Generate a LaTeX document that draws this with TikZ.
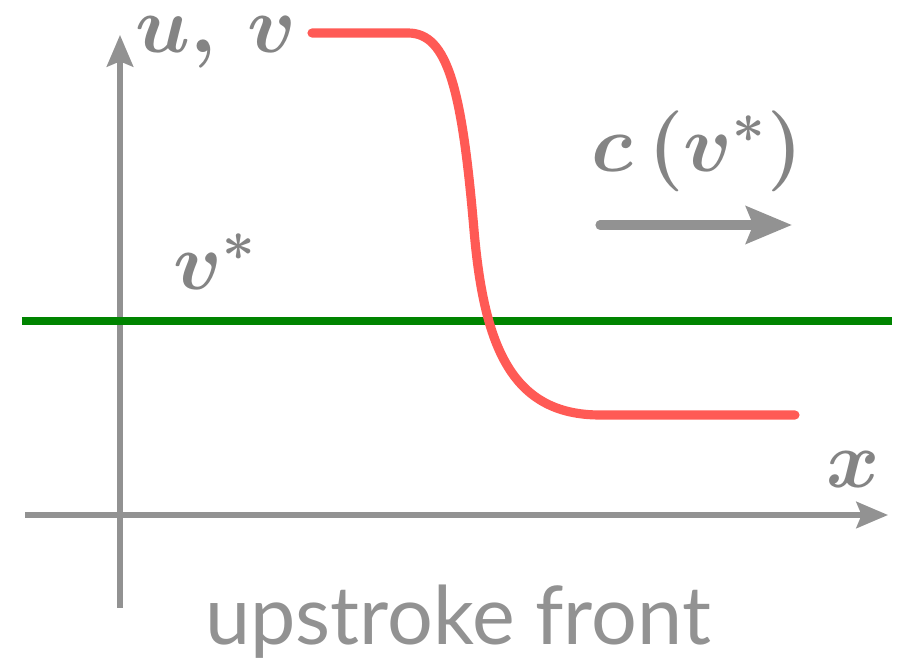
\RequirePackage{fix-cm}
\documentclass[tikz,border=0pt]{standalone}
\usepackage{amsmath,amssymb}
\usepackage{fontspec}
\newfontfamily\capfont{Lato}
\usetikzlibrary{arrows.meta,calc}
\definecolor{axG}{RGB}{146,146,146}
\definecolor{txG}{RGB}{132,132,132}
\definecolor{frR}{RGB}{255,90,85}
\definecolor{lvG}{RGB}{0,132,0}

\begin{document}
\begin{tikzpicture}[x=0.01cm,y=-0.01cm,
  axis/.style={draw=axG,line width=1.45pt,-{Stealth[length=9pt,width=7.5pt,inset=1.5pt]}},
  mlab/.style={text=txG,font=\fontsize{23}{28}\selectfont\boldmath,inner sep=0pt,anchor=base}]
\useasboundingbox (0,0) rectangle (899,670);
% axes
\coordinate (xl) at (25,515);
\coordinate (xr) at (888,515);
\coordinate (yb) at (120,608);
\coordinate (yt) at (120,35);
\draw[axis] (xl) -- (xr);
\draw[axis] (yb) -- (yt);
% threshold level v*
\coordinate (gl) at (22,321);
\coordinate (gr) at (892,321);
\draw[lvG,line width=2.3pt] (gl) -- (gr);
% front profile
\draw[frR,line width=2.6pt,line cap=round] (312,33) -- (408,33)
  .. controls (448,33) and (462,90) .. (474,230)
  .. controls (484,347) and (512,415) .. (600,415) -- (795,415);
% propagation direction
\coordinate (sa) at (600,225);
\coordinate (sb) at (792,225);
\draw[axG,line width=2.6pt,line cap=round,-{Stealth[length=13pt,width=10.5pt,inset=2pt]}] (sa) -- (sb);
\node[mlab] (uv) at (216,53) {$u,\,v$};
\node[mlab] (speed) at (697,172) {$c\,(v^*)$};
\node[mlab] (vstar) at (215,290) {$v^*$};
\node[mlab] (xlab) at (853,488) {$x$};
\node[text=axG,font=\capfont\fontsize{23}{28}\selectfont,inner sep=0pt,anchor=base] (cap) at (458,645) {upstroke front};
\end{tikzpicture}
\end{document}
